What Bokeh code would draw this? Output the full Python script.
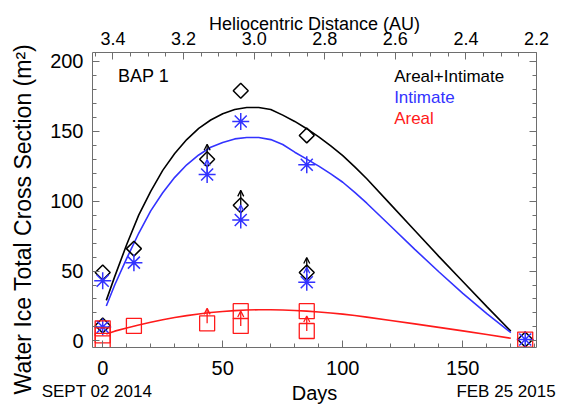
from bokeh.plotting import figure
from bokeh.models import (Range1d, LinearAxis, FixedTicker, Label, Arrow,
                          OpenHead, ColumnDataSource, PrintfTickFormatter,
                          CustomJSTickFormatter)
from bokeh.embed import file_html
from bokeh.resources import INLINE
import numpy as np

# ---------------- data ----------------
# observations (days since Sept 02 2014)
tot_days = [0, 0, 13, 43.5, 57.5, 57.5, 85, 85, 176]
tot_vals = [49, 11, 66, 130, 179, 97, 147, 49, 1]
tot_lim = [False, False, False, True, False, True, False, True, False]

int_days = [0, 0, 13, 43.5, 57.5, 57.5, 85, 85, 176]
int_vals = [43, 10, 56, 119, 157, 86.5, 126, 42, 1]
int_lim = [False, False, False, True, False, True, False, True, False]

are_days = [0, 0, 0, 13, 43.5, 57.5, 57.5, 85, 85, 176]
are_vals = [9, 4, 0, 10.7, 12.6, 21.3, 10.7, 21.3, 7.1, 1]
are_lim = [False, False, False, False, True, False, True, False, True, False]

# model curves
fit_days = [1.5, 5, 10, 15, 20, 25, 30, 35, 40, 45, 50, 55, 60, 65, 70, 75,
            80, 85, 90, 95, 100, 105, 110, 120, 130, 140, 150, 160, 170]
fit_tot = [29, 46, 69, 90, 107, 122, 134, 144, 152, 158, 162.5, 165.5, 167,
           167, 165.5, 161.5, 157, 151.8, 146, 139.5, 132.5, 124.5, 116,
           97.5, 79, 60.5, 42.5, 24.5, 7]
fit_int = [25, 40, 59, 77, 93, 106, 117, 126, 133, 138.5, 142, 144.5, 145.5,
           145.5, 144, 140.5, 135, 130, 125, 119.5, 113.5, 106.2, 98.5, 82,
           65.5, 49.5, 34, 19.5, 6]
fit_are = [5, 7, 9.3, 11.4, 13.3, 15.1, 16.7, 18.1, 19.3, 20.3, 21.1, 21.7,
           22.1, 22.3, 22.3, 22.1, 21.8, 21.3, 20.7, 20, 19.2, 18.2, 17, 14.6,
           12.2, 9.7, 7.2, 4.6, 1.9]

x_ticks = [0, 50, 100, 150]
y_ticks = [0, 50, 100, 150, 200]
dist_ticks = [3.4, 3.2, 3.0, 2.8, 2.6, 2.4, 2.2]
date_texts = ["SEPT 02 2014", "FEB 25 2015"]

# ---------------- styles ----------------
BLACK = "#000000"
BLUE = "#3333ff"
RED = "#ff1a1a"
AXC = "#6e6e6e"
FONT = "Liberation Sans"
ARROW_LEN = 10.7
NBSP = "\u00a0"

p = figure(width=576, height=406,
           x_range=Range1d(-4.25, 180.7), y_range=Range1d(-4.7, 206.3),
           output_backend="svg", toolbar_location=None,
           min_border_left=92, min_border_right=40,
           min_border_top=52, min_border_bottom=58)
p.xgrid.visible = False
p.ygrid.visible = False
p.outline_line_color = None
p.background_fill_color = "white"
p.border_fill_color = "white"


def style_axis(ax, size="20px"):
    ax.axis_line_color = AXC
    ax.major_tick_line_color = AXC
    ax.minor_tick_line_color = AXC
    ax.major_tick_in = 7
    ax.major_tick_out = 0
    ax.minor_tick_in = 4
    ax.minor_tick_out = 0
    ax.major_label_text_font = FONT
    ax.major_label_text_font_size = size
    ax.major_label_text_color = "#000000"
    ax.axis_label_text_font = FONT
    ax.axis_label_text_font_size = "18px"
    ax.axis_label_text_font_style = "normal"
    ax.axis_label_text_color = "#000000"


p.xaxis.ticker = FixedTicker(ticks=x_ticks, minor_ticks=list(range(0, 190, 10)))
p.yaxis.ticker = FixedTicker(ticks=y_ticks, minor_ticks=list(range(0, 210, 10)))
style_axis(p.xaxis[0])
style_axis(p.yaxis[0])
p.xaxis.major_label_standoff = 13
p.yaxis.major_label_standoff = 9
p.yaxis.axis_label = "Water Ice Total Cross Section (m\u00b2)" + NBSP * 6
p.yaxis.axis_label_text_font_size = "23px"
p.yaxis.axis_label_standoff = 11

# right mirror axis (ticks only)
ry = LinearAxis(ticker=FixedTicker(ticks=y_ticks, minor_ticks=list(range(0, 210, 10))))
style_axis(ry)
ry.major_label_text_font_size = "0px"
ry.major_label_text_color = None
p.add_layout(ry, "right")

# top heliocentric distance axis
p.extra_x_ranges = {"dist": Range1d(3.458, 2.2)}
minor_d = [round(2.2 + 0.05 * i, 2) for i in range(26)]
tx = LinearAxis(x_range_name="dist",
                ticker=FixedTicker(ticks=dist_ticks, minor_ticks=minor_d),
                formatter=PrintfTickFormatter(format="%.1f"),
                axis_label="Heliocentric Distance (AU)")
style_axis(tx, size="18px")
tx.major_label_standoff = 8
tx.axis_label_standoff = -5
p.add_layout(tx, "above")

# second bottom row: dates, with the axis title on the same row
bx = LinearAxis(ticker=FixedTicker(ticks=[-2.4, 168], minor_ticks=[]),
                formatter=CustomJSTickFormatter(
                    args=dict(names=date_texts),
                    code="return tick < 50 ? names[0] : names[1];"),
                axis_label="Days")
bx.axis_line_color = None
bx.major_tick_line_color = None
bx.minor_tick_line_color = None
bx.major_tick_in = 0
bx.major_tick_out = 0
bx.major_label_standoff = 4
bx.major_label_text_font = FONT
bx.major_label_text_font_size = "17px"
bx.major_label_text_color = "#000000"
bx.axis_label_text_font = FONT
bx.axis_label_text_font_size = "20px"
bx.axis_label_text_font_style = "normal"
bx.axis_label_text_color = "#000000"
bx.axis_label_standoff = -22
p.add_layout(bx, "below")

# ---------------- curves ----------------
p.line(fit_days, fit_tot, line_color=BLACK, line_width=1.6)
p.line(fit_days, fit_int, line_color=BLUE, line_width=1.6)
p.line(fit_days, fit_are, line_color=RED, line_width=1.6)

# ---------------- markers ----------------
p.scatter(tot_days, tot_vals, marker="square", angle=np.pi / 4, size=10.6,
          fill_color=None, line_color=BLACK, line_width=1.5)
p.scatter(int_days, int_vals, marker="asterisk", size=17,
          line_color=BLUE, line_width=1.5)
p.scatter(are_days, are_vals, marker="square", size=15,
          fill_color=None, line_color=RED, line_width=1.3)


def add_arrows(days, vals, lims, color):
    xs = [d for d, l in zip(days, lims) if l]
    ys = [v for v, l in zip(vals, lims) if l]
    src = ColumnDataSource(dict(x0=xs, y0=ys, x1=xs,
                                y1=[y + ARROW_LEN for y in ys]))
    p.add_layout(Arrow(source=src, x_start="x0", y_start="y0",
                       x_end="x1", y_end="y1", line_color=color,
                       line_width=1.3,
                       end=OpenHead(size=6, line_color=color, line_width=1.3)))


add_arrows(tot_days, tot_vals, tot_lim, BLACK)
add_arrows(int_days, int_vals, int_lim, BLUE)
add_arrows(are_days, are_vals, are_lim, RED)

# ---------------- texts ----------------
def lab(x, y, t, color="#000000", size="18px", align="left"):
    p.add_layout(Label(x=x, y=y, text=t, text_color=color, text_font=FONT,
                       text_font_size=size, text_align=align,
                       text_baseline="middle"))


lab(6.4, 189.7, "BAP 1", size="18px")
lab(121.4, 189, "Areal+Intimate", BLACK, "17px")
lab(121.4, 174, "Intimate", BLUE, "17px")
lab(121.4, 159, "Areal", RED, "17px")

open("out.html", "w").write(file_html(p, INLINE))
